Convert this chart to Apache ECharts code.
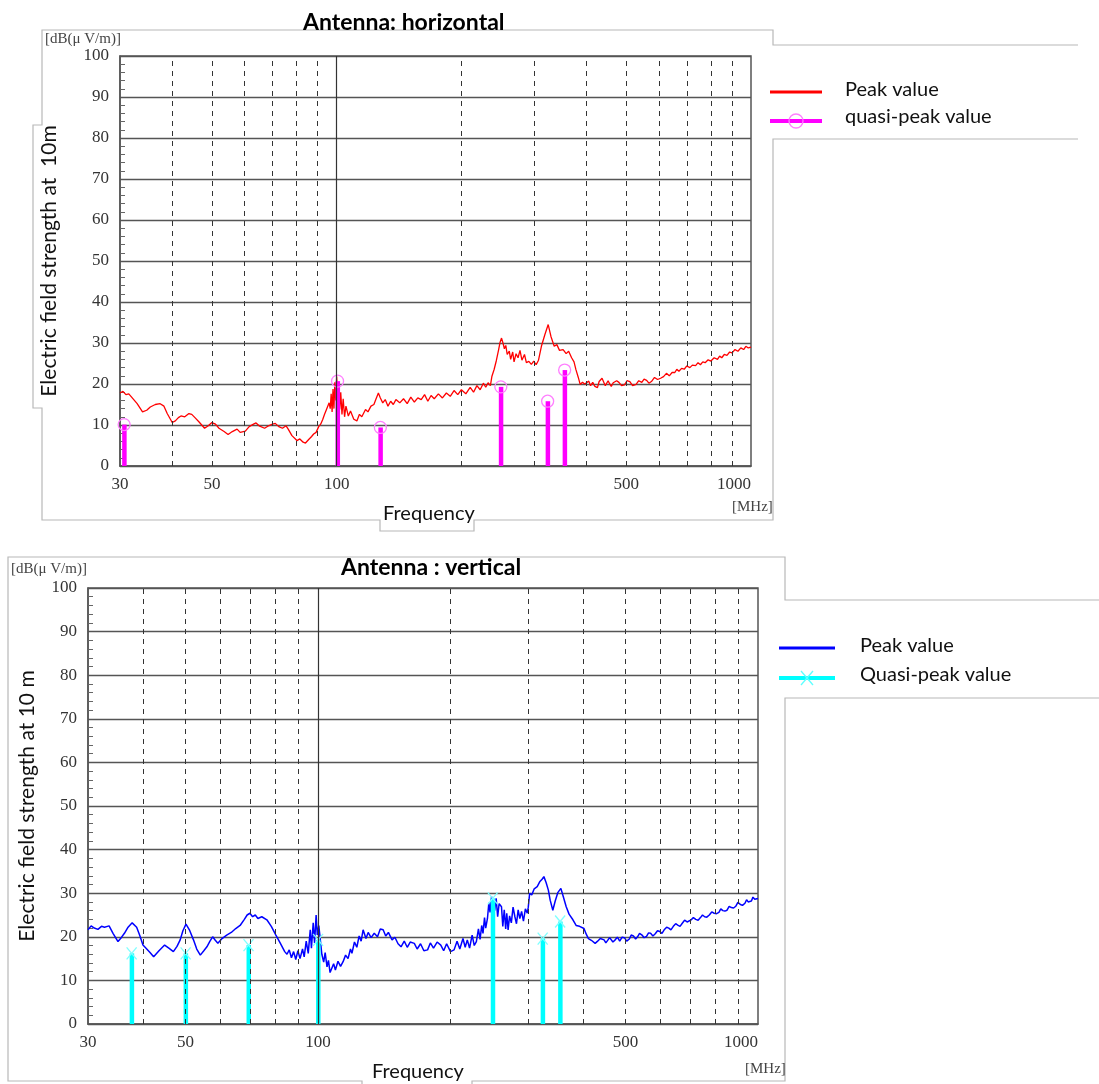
<!DOCTYPE html>
<html><head><meta charset="utf-8">
<script src="https://cdn.jsdelivr.net/npm/echarts@6/dist/echarts.min.js"></script>
<style>html,body{margin:0;padding:0;background:#fff}#c{width:1099px;height:1084px}</style>
</head><body><div id="c"></div>
<script>
// ---------- DATA ----------
const xTickLabels = [30, 50, 100, 500, 1000];
const xDashedLines = [40, 50, 60, 70, 80, 90, 200, 300, 400, 500, 600, 700, 800, 900];
const xSolidLines = [100];

const topPeak = [[30,17.8],[30.5,18.2],[31,17.4],[31.5,17.6],[32,16.8],[33,15.2],[34,13.2],[34.8,13.6],[35.5,14.4],[36.5,15.0],[37.5,15.2],[38.3,14.6],[39,12.8],[40.1,10.6],[40.8,11.0],[41.5,11.8],[42.1,12.2],[43,12.0],[44,12.8],[44.7,12.6],[45.5,11.8],[46.5,10.8],[48,9.2],[49,9.8],[50,10.6],[51,10.2],[52,9.2],[53.5,8.4],[54.7,7.7],[56,8.4],[57.5,9.0],[58.5,8.2],[60.2,8.5],[61.5,9.6],[63,10.2],[63.9,10.5],[65,9.8],[67,9.2],[68.5,9.8],[70,10.2],[71.1,10.4],[72.5,9.6],[74,9.2],[75.5,9.8],[76.4,9.0],[78,7.4],[80.2,6.2],[81.5,6.6],[83,5.8],[84.1,5.6],[85.5,6.4],[87,7.2],[88,7.8],[89.2,8.2],[90.5,9.6],[91.5,10.2],[92.5,11.3],[93.5,12.6],[94.5,13.8],[95.9,15.4],[96.5,14.0],[97,17.6],[97.5,13.2],[98,18.8],[98.5,14.0],[99,20.4],[99.5,16.0],[100,21.8],[100.5,17.2],[101,19.6],[101.7,13.8],[102.3,18.0],[103,12.6],[103.7,16.4],[104.5,12.0],[105.3,14.6],[106.7,12.2],[108,13.4],[110,11.4],[111.9,11.0],[113.5,12.6],[115,12.0],[117.4,13.8],[119,13.2],[121,14.6],[123,15.0],[124.5,16.4],[126.1,17.8],[127.5,16.6],[129.2,15.4],[131,16.2],[133,14.6],[135,15.8],[137,15.0],[139,16.2],[142,15.4],[145,16.4],[148,15.2],[151,16.8],[154,15.6],[157,16.6],[160,16.2],[163,17.4],[166,15.8],[169,17.2],[172,16.4],[176,17.6],[180,16.6],[184,17.8],[188,17.0],[192,18.4],[196,17.4],[200,18.6],[205,17.6],[210,19.2],[214,18.0],[218,19.6],[222,18.6],[226,20.2],[229,19.2],[232,20.3],[235,19.6],[237,21.9],[240,23.6],[243,25.8],[246,28.4],[248,30.2],[250,31.2],[252,30.0],[254,28.6],[256,29.4],[258,27.2],[261,28.0],[263,26.0],[266,27.8],[268,25.4],[271,27.4],[274,26.4],[277,28.2],[280,25.8],[284,27.2],[287,25.2],[291,25.5],[295,24.8],[299,25.6],[303,24.7],[307,25.8],[312,29.2],[318,32.0],[324,34.5],[329,31.6],[335,29.2],[340,29.6],[345,28.2],[352,28.4],[358,27.4],[363,28.0],[369,26.4],[374,25.4],[378,23.5],[383,21.6],[387,19.9],[392,20.4],[397,20.0],[406,20.7],[410,19.6],[415,20.4],[420,19.4],[426,19.1],[430,20.6],[433,20.4],[437,21.4],[441,21.1],[445,19.6],[448,19.8],[452,20.8],[455,20.2],[460,19.4],[465,20.3],[469,19.9],[474,20.8],[480,20.4],[487,19.6],[495,19.8],[502,20.8],[510,20.6],[518,19.6],[528,19.9],[536,20.8],[545,20.4],[552,21.2],[560,20.9],[567,20.2],[575,20.6],[585,21.6],[595,21.1],[605,21.4],[615,21.8],[625,22.6],[635,22.0],[645,22.8],[655,22.8],[662,23.6],[670,23.1],[680,23.8],[690,23.6],[700,24.4],[712,24.0],[722,24.6],[735,24.5],[745,25.2],[755,24.7],[765,25.4],[775,25.2],[788,25.9],[800,25.6],[815,26.4],[830,26.0],[840,26.8],[850,26.4],[862,27.2],[875,27.0],[888,27.8],[900,27.6],[915,28.4],[930,28.0],[945,28.8],[960,28.4],[972,29.2],[985,28.8],[1000,29.0]];

const topQuasiPeak = [[30.7,10.1],[100.5,20.7],[127.5,9.4],[249,19.3],[323,15.8],[355,23.4]];

const bottomPeak = [[30,21.6],[30.5,22.5],[31,22.0],[31.6,21.7],[32.2,22.4],[32.7,22.2],[33.5,22.5],[34.2,20.8],[35.1,18.9],[35.7,19.8],[36.3,20.8],[37,22.2],[37.8,23.2],[38.7,22.2],[39.3,20.4],[40,18.1],[40.8,17.2],[41.5,16.4],[42.3,15.4],[43.5,16.8],[44.8,18.1],[45.8,17.4],[46.9,16.6],[47.8,17.8],[48.6,19.3],[49.3,21.4],[50.1,22.9],[51,21.6],[52.1,19.3],[53,17.2],[54,15.8],[55,16.8],[55.9,17.7],[56.8,19.0],[57.6,20.0],[58.4,19.2],[59.2,18.5],[60.5,19.6],[62,20.4],[63.5,21.0],[65,21.9],[66.5,22.6],[68,24.0],[69,25.0],[70,25.4],[71,24.6],[72,25.0],[73,24.2],[74.5,24.6],[76.5,23.9],[78.3,22.4],[80.2,20.4],[82,18.6],[84,16.6],[85,16.0],[86,17.0],[87,15.2],[88,16.6],[89,14.8],[90,16.8],[91,15.0],[92.2,17.2],[93,15.4],[94,19.0],[95,16.2],[96,21.6],[96.6,17.4],[97.5,23.2],[98.2,18.6],[99,25.0],[99.6,20.4],[100.4,22.6],[101.2,19.3],[102,16.0],[103,14.2],[103.8,16.4],[104.8,13.1],[105.6,14.6],[106.5,11.8],[107.3,12.0],[108.5,13.8],[109.5,12.4],[111,14.4],[112.5,13.2],[114,14.3],[115.5,15.8],[117,15.0],[118.5,17.2],[119.4,16.2],[121,18.8],[122.5,17.6],[124,20.2],[125.3,19.0],[126.6,21.6],[128.5,19.6],[130,21.0],[132,19.8],[134.2,20.8],[136.5,20.0],[138.5,21.8],[140.6,21.6],[142.5,20.2],[144.5,21.0],[147.3,19.3],[149.5,19.9],[152,18.4],[154.4,17.7],[157,19.0],[159.5,17.6],[162,18.8],[165.5,18.5],[168,17.2],[171,18.4],[174,16.8],[177.4,17.0],[180,18.6],[183,17.4],[186.5,18.8],[190.1,18.1],[193,16.8],[196,18.4],[200,16.6],[203.8,17.0],[207,19.0],[210,17.2],[213.5,19.6],[216,17.6],[218.4,19.3],[221,17.4],[224,20.4],[226.5,18.0],[229,18.9],[231.5,21.8],[233.5,19.4],[235.5,22.6],[237.1,20.8],[239,24.4],[240.5,22.0],[242.7,24.2],[244.5,27.8],[246,25.6],[248,29.2],[250.2,29.6],[252,26.0],[254,28.8],[256,24.6],[258,27.6],[261.2,26.9],[263,22.4],[265,26.2],[267,21.8],[268.5,25.4],[270.4,21.6],[272.5,24.8],[275,23.2],[277.5,26.8],[280.2,24.6],[282.5,23.0],[285,26.2],[287.5,24.2],[290.2,25.8],[293,23.6],[296,26.4],[299,25.4],[300.5,26.8],[302.7,30.0],[306,29.6],[310,31.0],[314.9,31.5],[319,32.6],[323,33.2],[326.1,33.8],[330,32.4],[333.8,30.7],[337,28.4],[341.7,26.1],[346,28.2],[351,30.2],[356.4,31.1],[361,29.2],[366.5,26.9],[372,25.2],[379.6,23.9],[386,22.6],[393,22.4],[402.2,21.9],[407,20.6],[411.7,19.6],[418,19.2],[426.4,18.5],[432,19.0],[438,19.6],[446.8,19.3],[451,18.6],[455,18.9],[460,19.8],[464,19.6],[468,18.8],[473.6,19.3],[479,19.9],[485,19.0],[491,19.9],[497,19.8],[503,19.0],[510,19.5],[515,20.4],[521,20.2],[527,19.5],[532.3,20.0],[538,20.8],[545,20.4],[551,19.8],[558,20.1],[564,20.9],[570,20.8],[577,20.2],[584,20.7],[591,21.4],[598.4,21.2],[605,20.8],[612,21.6],[620,22.2],[627,22.0],[634,21.6],[642,22.4],[650,23.0],[657,22.7],[665,22.4],[672.8,23.1],[681,23.8],[690,23.4],[697,23.2],[705,23.9],[713,24.4],[722,24.0],[731,23.8],[740,24.4],[748,25.0],[756.4,24.6],[765,24.5],[775,25.0],[785,25.7],[795,25.4],[805,25.3],[815,25.6],[823,26.4],[832,26.0],[841,25.9],[850.4,26.1],[860,27.0],[870,26.7],[880,26.6],[890,27.0],[900,27.9],[912,27.4],[922,27.2],[934,27.7],[942,28.5],[950,28.0],[958,27.9],[966,28.2],[974,29.1],[983,28.6],[992,28.5],[1000,28.8]];

const bottomQuasiPeak = [[37.7,16.2],[50,16.2],[69.5,18.1],[100,19.3],[249.5,28.8],[324,19.6],[355,23.5]];

// ---------- CHART ----------
const SANS = 'Lato';
const SERIF = 'Liberation Serif';
const chart = echarts.init(document.getElementById('c'), null, {renderer: 'canvas'});

function makeXAxis(gi) {
  return {type: 'log', logBase: 10, min: 30, max: 1000, gridIndex: gi,
    axisLine: {show: true, lineStyle: {color: '#555', width: 1.5}},
    axisTick: {show: false}, axisLabel: {show: false}, splitLine: {show: false}, minorTick: {show: false}};
}
function makeYAxis(gi, name, gap) {
  return {type: 'value', min: 0, max: 100, interval: 10, gridIndex: gi,
    name: name, nameLocation: 'middle', nameRotate: 90, nameGap: gap,
    nameTextStyle: {fontFamily: SANS, fontSize: 21, color: '#111'},
    axisLine: {show: true, lineStyle: {color: '#555', width: 1.5}},
    axisTick: {show: true, inside: true, length: 5, lineStyle: {color: '#555'}},
    minorTick: {show: true, splitNumber: 5, length: 5, lineStyle: {color: '#666'}},
    axisLabel: {fontFamily: SERIF, fontSize: 17, color: '#333', margin: 11},
    splitLine: {show: true, lineStyle: {color: '#555', width: 1.4}}};
}
function gridMarkLines(gi) {
  const data = [];
  xDashedLines.forEach(v => data.push({xAxis: v, lineStyle: {type: [5, 5], color: '#333', width: 1}, label: {show: false}}));
  xSolidLines.forEach(v => data.push({xAxis: v, lineStyle: {type: 'solid', color: '#333', width: 1.2}, label: {show: false}}));
  xTickLabels.forEach((v, i) => data.push({xAxis: v, name: String(v),
    lineStyle: {color: 'rgba(0,0,0,0)', width: 1, type: 'solid'},
    label: {show: true, position: 'start', distance: 10, formatter: '{b}', fontFamily: SERIF, fontSize: 17, color: '#333',
      align: i === xTickLabels.length - 1 ? 'right' : 'center', verticalAlign: 'top'}}));
  return {type: 'line', xAxisIndex: gi, yAxisIndex: gi, data: [], silent: true, z: 1,
    markLine: {silent: true, symbol: ['none', 'none'], animation: false, data: data}};
}
function stemSeries(gi, data, stemColor, markColor, kind) {
  return {type: 'custom', xAxisIndex: gi, yAxisIndex: gi, data: data, z: 4, silent: true,
    encode: {x: 0, y: 1},
    renderItem: function (params, api) {
      const f = api.value(0), v = api.value(1);
      const top = api.coord([f, v]);
      const base = api.coord([f, 0]);
      const children = [{type: 'rect', shape: {x: top[0] - 2, y: top[1], width: 4.5, height: base[1] - top[1]},
        style: {fill: stemColor}}];
      if (kind === 'circle') {
        children.push({type: 'circle', shape: {cx: top[0], cy: top[1], r: 6},
          style: {fill: 'none', stroke: markColor, lineWidth: 1.3}});
      } else {
        children.push({type: 'line', shape: {x1: top[0] - 5, y1: top[1] - 6, x2: top[0] + 5, y2: top[1] + 6}, style: {stroke: markColor, lineWidth: 1.3}});
        children.push({type: 'line', shape: {x1: top[0] + 5, y1: top[1] - 6, x2: top[0] - 5, y2: top[1] + 6}, style: {stroke: markColor, lineWidth: 1.3}});
      }
      return {type: 'group', children: children};
    }};
}

const frameStyle = {stroke: '#b8b8b8', lineWidth: 1.2, fill: null};
const option = {
  animation: false,
  backgroundColor: '#fff',
  grid: [
    {left: 120, top: 56, width: 631, height: 410, show: true, borderColor: '#555', borderWidth: 1.5, backgroundColor: 'transparent'},
    {left: 88, top: 588, width: 670, height: 436, show: true, borderColor: '#555', borderWidth: 1.5, backgroundColor: 'transparent'}
  ],
  xAxis: [makeXAxis(0), makeXAxis(1)],
  yAxis: [makeYAxis(0, 'Electric field strength at  10m', 60), makeYAxis(1, 'Electric field strength at 10 m', 50)],
  series: [
    gridMarkLines(0),
    gridMarkLines(1),
    {name: 'Peak value', type: 'line', xAxisIndex: 0, yAxisIndex: 0, data: topPeak, showSymbol: false, symbol: 'none', z: 3,
      lineStyle: {color: '#ff0000', width: 1.3}},
    stemSeries(0, topQuasiPeak, '#ff00ff', '#ff7fff', 'circle'),
    {name: 'Peak value', type: 'line', xAxisIndex: 1, yAxisIndex: 1, data: bottomPeak, showSymbol: false, symbol: 'none', z: 3,
      lineStyle: {color: '#0000ff', width: 1.5}},
    stemSeries(1, bottomQuasiPeak, '#00ffff', '#7fffff', 'cross')
  ],
  graphic: [
    // top frame
    {type: 'polyline', silent: true, z: -1, shape: {points: [[1078,45],[773,45],[773,30],[42,30],[42,125],[33,125],[33,408],[42,408],[42,520],[380,520],[380,531],[474,531],[474,520],[773,520],[773,139],[1078,139]]}, style: frameStyle},
    {type: 'text', left: 303, top: 11, z: 10, style: {text: 'Antenna: horizontal', font: 'bold 23px Lato', fill: '#000'}},
    {type: 'text', left: 45, top: 32, style: {text: '[dB(μ V/m)]', font: '15px "Liberation Serif"', fill: '#444'}},
    {type: 'text', left: 732, top: 500, style: {text: '[MHz]', font: '15px "Liberation Serif"', fill: '#444'}},
    {type: 'text', left: 383, top: 504, style: {text: 'Frequency', font: '20px Lato', fill: '#111'}},
    // top legend
    {type: 'line', shape: {x1: 770, y1: 92, x2: 822, y2: 92}, style: {stroke: '#ff0000', lineWidth: 3}},
    {type: 'text', left: 845, top: 80, style: {text: 'Peak value', font: '20px Lato', fill: '#111'}},
    {type: 'line', shape: {x1: 770, y1: 121, x2: 822, y2: 121}, style: {stroke: '#ff00ff', lineWidth: 4}},
    {type: 'circle', shape: {cx: 796, cy: 121, r: 7}, style: {fill: null, stroke: '#ff7fff', lineWidth: 1.3}},
    {type: 'text', left: 845, top: 107, style: {text: 'quasi-peak value', font: '20px Lato', fill: '#111'}},
    // bottom frame
    {type: 'polyline', silent: true, z: -1, shape: {points: [[1099,600],[785,600],[785,557],[8,557],[8,1081],[362,1081],[362,1090]]}, style: frameStyle},
    {type: 'polyline', silent: true, z: -1, shape: {points: [[472,1090],[472,1081],[785,1081],[785,698],[1099,698]]}, style: frameStyle},
    {type: 'text', left: 341, top: 556, style: {text: 'Antenna : vertical', font: 'bold 23px Lato', fill: '#000'}},
    {type: 'text', left: 11, top: 562, style: {text: '[dB(μ V/m)]', font: '15px "Liberation Serif"', fill: '#444'}},
    {type: 'text', left: 745, top: 1062, style: {text: '[MHz]', font: '15px "Liberation Serif"', fill: '#444'}},
    {type: 'text', left: 372, top: 1062, style: {text: 'Frequency', font: '20px Lato', fill: '#111'}},
    // bottom legend
    {type: 'line', shape: {x1: 779, y1: 648, x2: 835, y2: 648}, style: {stroke: '#0000ff', lineWidth: 3}},
    {type: 'text', left: 860, top: 636, style: {text: 'Peak value', font: '20px Lato', fill: '#111'}},
    {type: 'line', shape: {x1: 779, y1: 678, x2: 835, y2: 678}, style: {stroke: '#00ffff', lineWidth: 4}},
    {type: 'line', shape: {x1: 801, y1: 671, x2: 813, y2: 685}, style: {stroke: '#5fffff', lineWidth: 1.3}},
    {type: 'line', shape: {x1: 813, y1: 671, x2: 801, y2: 685}, style: {stroke: '#5fffff', lineWidth: 1.3}},
    {type: 'text', left: 860, top: 665, style: {text: 'Quasi-peak value', font: '20px Lato', fill: '#111'}}
  ]
};
chart.setOption(option);
</script>
</body></html>
